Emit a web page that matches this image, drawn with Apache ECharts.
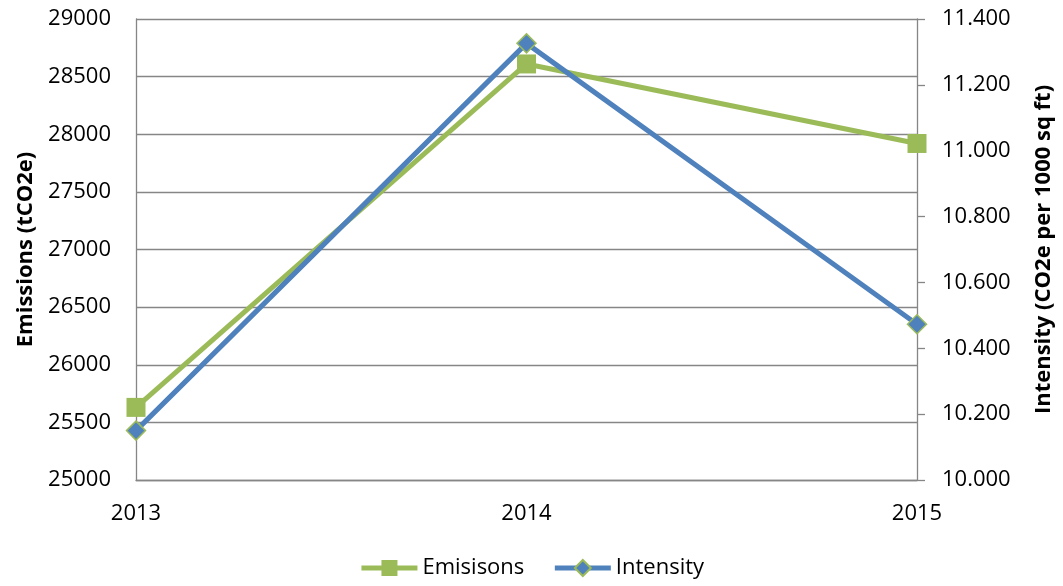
<!DOCTYPE html>
<html>
<head>
<meta charset="utf-8">
<script src="https://cdn.jsdelivr.net/npm/echarts@6/dist/echarts.min.js"></script>
<style>
  html, body { margin: 0; padding: 0; background: #fff; }
  #chart { width: 1063px; height: 586px; }
</style>
</head>
<body>
<div id="chart"></div>
<script>
// Years on the category axis
const years = ['2013', '2014', '2015'];
// Total emissions, tCO2e (left axis)
const emissions = [25630, 28610, 27920];
// Emissions intensity, CO2e per 1000 sq ft (right axis)
const intensity = [10.150, 11.326, 10.473];

const GREEN = '#9BBB59';
const BLUE = '#4F81BD';
const GREY = '#868686';
const FONT = '"Open Sans", "Liberation Sans", sans-serif';

const chart = echarts.init(document.getElementById('chart'), null, { renderer: 'canvas' });

chart.setOption({
  animation: false,
  backgroundColor: '#fff',
  textStyle: { fontFamily: FONT },
  grid: { left: 136, right: 141, top: 19, bottom: 106, containLabel: false },
  legend: {
    bottom: 2,
    left: 'center',
    itemWidth: 56,
    itemHeight: 20,
    itemGap: 28,
    lineStyle: { width: 5 },
    textStyle: { fontFamily: FONT, fontSize: 22, color: '#000' },
    data: ['Emisisons', 'Intensity']
  },
  xAxis: {
    type: 'category',
    data: years,
    boundaryGap: false,
    axisLine: { lineStyle: { color: GREY, width: 1.3 } },
    axisTick: { show: false },
    axisLabel: { fontFamily: FONT, fontSize: 22, color: '#000', margin: 23 },
    splitLine: { show: false }
  },
  yAxis: [
    {
      type: 'value',
      min: 25000,
      max: 29000,
      interval: 500,
      position: 'left',
      name: 'Emissions (tCO2e)',
      nameLocation: 'middle',
      nameRotate: 90,
      nameGap: 99,
      nameTextStyle: { fontFamily: FONT, fontSize: 22, fontWeight: 'bold', color: '#000' },
      axisLine: { show: true, lineStyle: { color: GREY, width: 1.3 } },
      axisTick: { show: false },
      axisLabel: {
        fontFamily: FONT, fontSize: 22, color: '#000', margin: 25,
        formatter: v => String(v)
      },
      splitLine: { show: true, lineStyle: { color: GREY, width: 1.3 } }
    },
    {
      type: 'value',
      min: 10,
      max: 11.4,
      interval: 0.2,
      position: 'right',
      name: 'Intensity (CO2e per 1000 sq ft)',
      nameLocation: 'middle',
      nameRotate: 90,
      nameGap: 116,
      nameTextStyle: { fontFamily: FONT, fontSize: 22, fontWeight: 'bold', color: '#000' },
      axisLine: { show: true, lineStyle: { color: GREY, width: 1.3 } },
      axisTick: { show: true, inside: false, length: 8, lineStyle: { color: GREY, width: 1.3 } },
      axisLabel: {
        fontFamily: FONT, fontSize: 22, color: '#000', margin: 25,
        formatter: v => v.toFixed(3)
      },
      splitLine: { show: false }
    }
  ],
  series: [
    {
      name: 'Emisisons',
      type: 'line',
      yAxisIndex: 0,
      data: emissions,
      symbol: 'rect',
      symbolSize: 19,
      showAllSymbol: true,
      color: GREEN,
      lineStyle: { color: GREEN, width: 5 },
      itemStyle: { color: GREEN, borderColor: GREEN, borderWidth: 0 },
      z: 2
    },
    {
      name: 'Intensity',
      type: 'line',
      yAxisIndex: 1,
      data: intensity,
      symbol: 'diamond',
      symbolSize: 19,
      showAllSymbol: true,
      color: BLUE,
      lineStyle: { color: BLUE, width: 5 },
      itemStyle: { color: BLUE, borderColor: GREEN, borderWidth: 1.5 },
      z: 3
    }
  ]
});
</script>
</body>
</html>
